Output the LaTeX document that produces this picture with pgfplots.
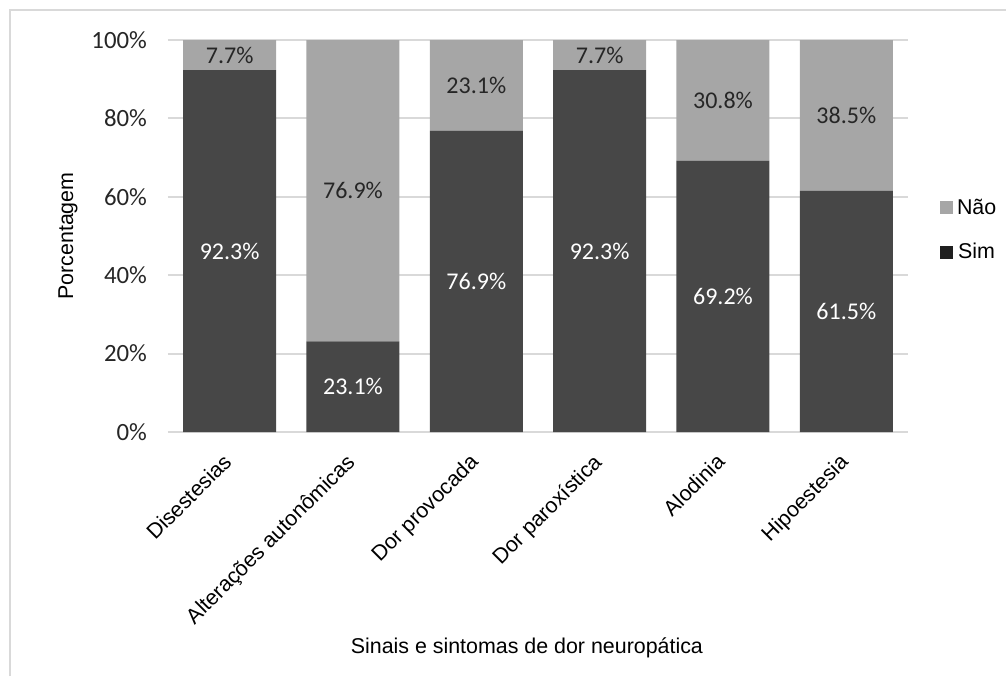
\documentclass[border=0pt]{standalone}
\usepackage{pgfplots}
\pgfplotsset{compat=1.18}
\usepackage{fontspec}
\setmainfont{Liberation Sans}
\newfontfamily\calibri{Carlito}
\definecolor{simcol}{HTML}{474747}
\definecolor{naocol}{HTML}{A6A6A6}
\definecolor{gridcol}{HTML}{D9D9D9}
\definecolor{labcol}{HTML}{262626}
\begin{document}
\begin{tikzpicture}
% 1 px of the reference = 0.5pt; axis south-west corner at (0,0)
\useasboundingbox (-84pt,-122pt) rectangle (419pt,216pt);
\draw[gridcol, line width=1pt] (-79pt,-122pt) -- (-79pt,211pt) -- (419pt,211pt);
\begin{axis}[
    at={(0pt,0pt)}, anchor=south west,
    scale only axis,
    width=370pt, height=196pt,
    ybar stacked,
    bar width=46.5pt,
    xmin=-0.5, xmax=5.5,
    ymin=0, ymax=100,
    xtick=data,
    xticklabels={Disestesias, Alterações autonômicas, Dor provocada, Dor paroxística, Alodinia, Hipoestesia},
    ytick={0,20,...,100},
    yticklabels={0\%,20\%,40\%,60\%,80\%,100\%},
    major tick length=0pt,
    axis lines*=left,
    x axis line style={gridcol, line width=1pt, -},
    y axis line style={draw=none},
    ymajorgrids=true,
    grid style={gridcol, line width=1pt},
    /pgf/number format/assume math mode=true,
    yticklabel style={font=\calibri\fontsize{12.4}{14}\selectfont, text=labcol, xshift=-7pt},
    xticklabel style={font=\fontsize{10.7}{12}\selectfont, xshift=-4pt, yshift=-10pt, rotate=45, anchor=north east, inner sep=0pt},
    ylabel={Porcentagem},
    ylabel style={font=\fontsize{10.7}{12}\selectfont, at={(rel axis cs:-0.1351,0.5)}, anchor=center},
    xlabel={Sinais e sintomas de dor neuropática},
    xlabel style={font=\fontsize{10.7}{12}\selectfont, at={(rel axis cs:0.485,-0.551)}, anchor=center},
    nodes near coords={\pgfmathprintnumber[fixed,precision=1,fixed zerofill]{\pgfplotspointmeta}\%},
    every node near coord/.style={anchor=center, font=\calibri\fontsize{12}{14}\selectfont},
    legend style={draw=none, at={(rel axis cs:1.043,0.515)}, anchor=west,
        font=\fontsize{10.7}{12}\selectfont, row sep=9pt, inner sep=0pt,
        /tikz/every even column/.append style={column sep=1pt}},
    reverse legend,
]
\addplot[fill=simcol, draw=none, nodes near coords style={text=white},
    legend image code/.code={\fill[black!88] (0pt,-3.2pt) rectangle (6.4pt,3.2pt);}]
coordinates {(0,92.3) (1,23.1) (2,76.9) (3,92.3) (4,69.2) (5,61.5)};
\addlegendentry{Sim}
\addplot[fill=naocol, draw=none, nodes near coords style={text=labcol},
    legend image code/.code={\fill[naocol] (0pt,-3.2pt) rectangle (6.4pt,3.2pt);}]
coordinates {(0,7.7) (1,76.9) (2,23.1) (3,7.7) (4,30.8) (5,38.5)};
\addlegendentry{Não}
\end{axis}
\end{tikzpicture}
\end{document}
